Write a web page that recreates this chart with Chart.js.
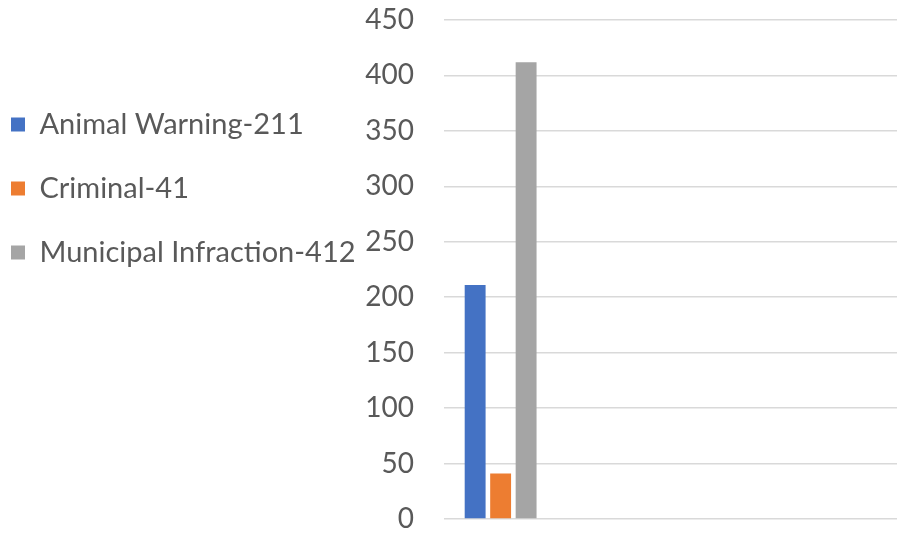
<!DOCTYPE html>
<html lang="en">
<head>
    <meta charset="UTF-8">
    <title>Violations</title>
    <script src="https://cdn.jsdelivr.net/npm/chart.js"></script>
    <style>
        body { margin: 0; background: #fff; }
        .chart-container { width: 897px; height: 533px; }
    </style>
</head>
<body>
    <div class="chart-container">
        <canvas id="violationChart"></canvas>
    </div>

    <script>
        // categories (only the first one holds data, the rest are empty slots)
        const categories = ['', '', '', ''];
        const seriesNames = ['Animal Warning-211', 'Criminal-41', 'Municipal Infraction-412'];
        const animalWarning = [211, null, null, null];
        const criminal = [41, null, null, null];
        const municipalInfraction = [412, null, null, null];
        const yTicks = [0, 50, 100, 150, 200, 250, 300, 350, 400, 450];

        const colors = ['#4472C4', '#ED7D31', '#A5A5A5'];
        const textColor = '#595959';
        const fontFamily = 'Lato, "Open Sans", sans-serif';

        // keep the legend box narrow so the y axis labels have room next to it
        const legendWidthFix = {
            id: 'legendWidthFix',
            afterInit(chart) {
                const legend = chart.legend;
                const fit = legend.fit;
                legend.fit = function () {
                    fit.call(this);
                    this.width = 386;
                };
            }
        };

        const ctx = document.getElementById('violationChart').getContext('2d');
        new Chart(ctx, {
            type: 'bar',
            data: {
                labels: categories,
                datasets: [animalWarning, criminal, municipalInfraction].map((values, i) => ({
                    label: seriesNames[i],
                    data: values,
                    backgroundColor: colors[i],
                    barPercentage: 0.82,
                    categoryPercentage: 0.675
                }))
            },
            plugins: [legendWidthFix],
            options: {
                responsive: true,
                maintainAspectRatio: false,
                animation: false,
                layout: {
                    padding: { left: -24, right: 0, top: 20, bottom: 14 }
                },
                plugins: {
                    tooltip: { enabled: false },
                    legend: {
                        position: 'left',
                        align: 'start',
                        fullSize: false,
                        maxWidth: 600,
                        title: {
                            display: true,
                            text: ' ',
                            font: { size: 10, lineHeight: 1 },
                            padding: { top: 45, bottom: 0 }
                        },
                        labels: {
                            boxWidth: 14,
                            boxHeight: 14,
                            padding: 35,
                            color: textColor,
                            font: { family: fontFamily, size: 29 }
                        }
                    }
                },
                scales: {
                    x: {
                        display: false
                    },
                    y: {
                        min: 0,
                        max: 450,
                        afterBuildTicks: scale => {
                            scale.ticks = yTicks.map(v => ({ value: v }));
                        },
                        afterFit: scale => {
                            scale.width = 82;
                            scale.paddingTop = 0;
                            scale.paddingBottom = 0;
                        },
                        border: { display: false },
                        grid: {
                            color: '#d9d9d9',
                            lineWidth: 1.5,
                            drawTicks: false
                        },
                        ticks: {
                            padding: 30,
                            color: textColor,
                            font: { family: fontFamily, size: 28 }
                        }
                    }
                }
            }
        });
    </script>
</body>
</html>
